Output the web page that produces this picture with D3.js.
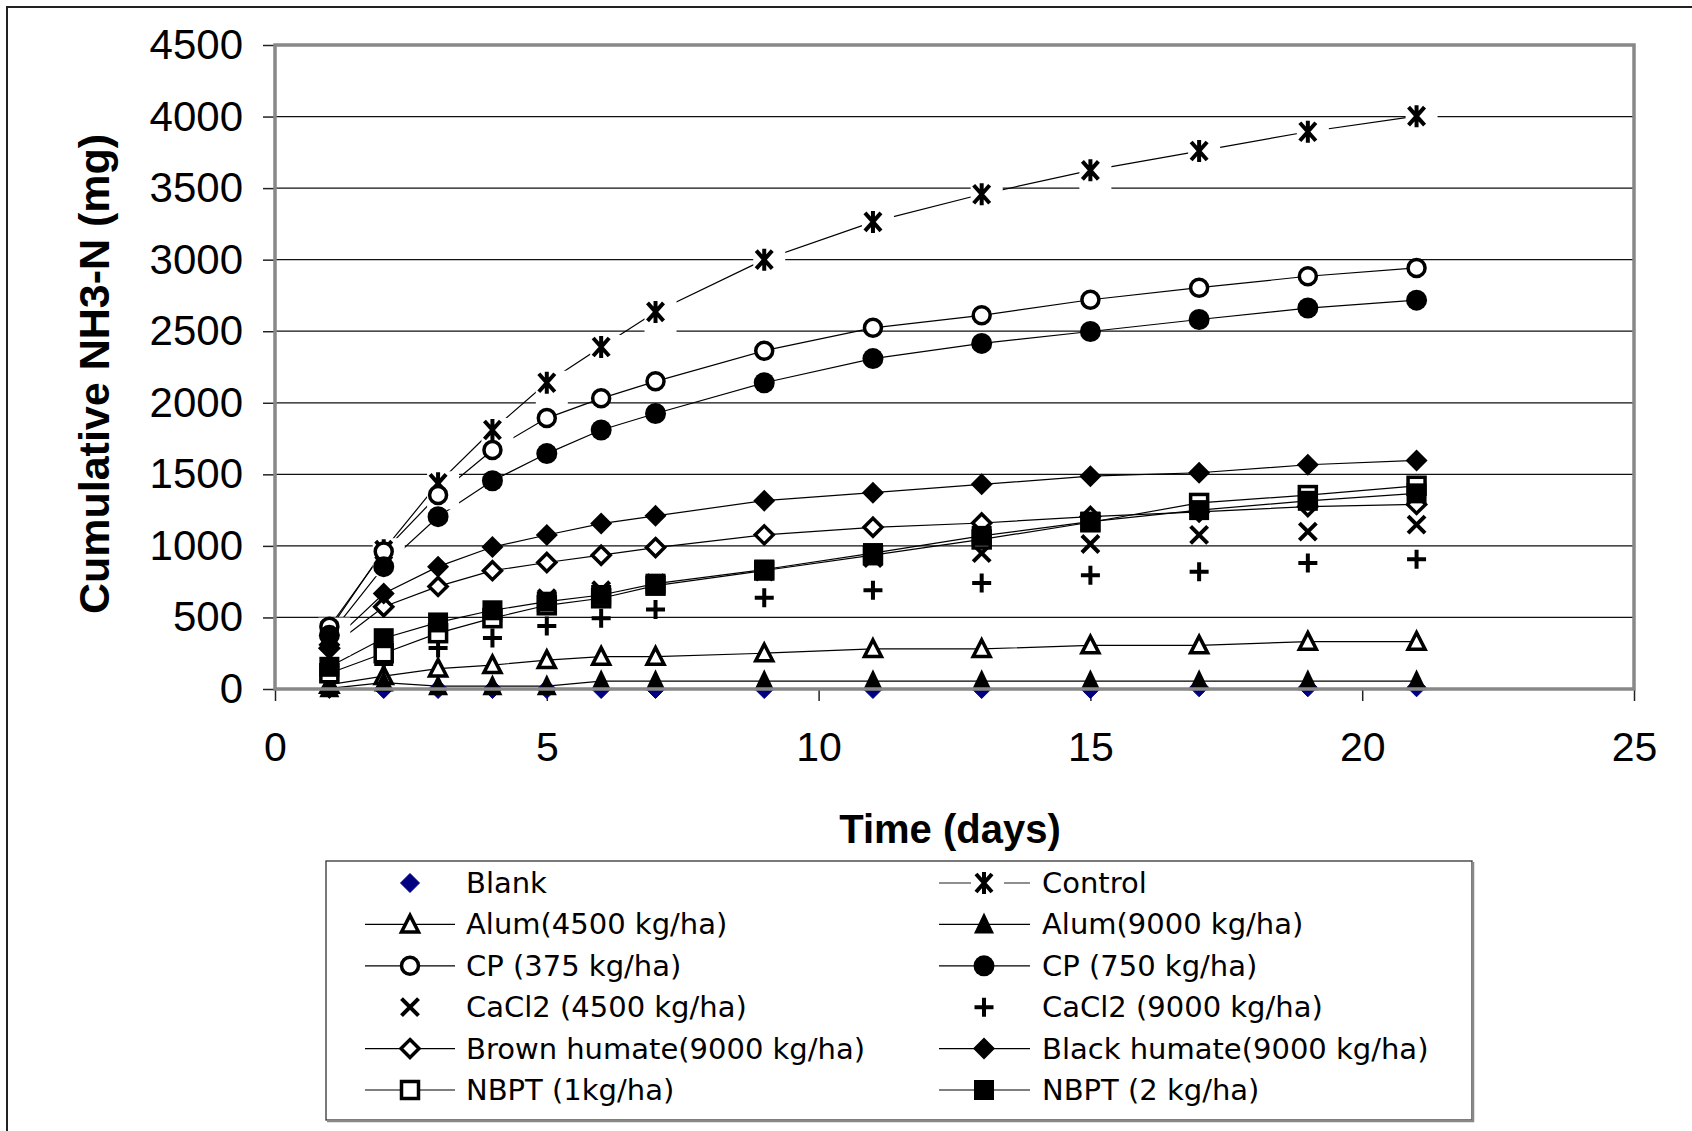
<!DOCTYPE html>
<html><head><meta charset="utf-8">
<script src="https://cdn.jsdelivr.net/npm/d3@7"></script>
<style>body{margin:0;background:#fff}svg{display:block}</style>
</head><body>
<svg id="chart" width="1692" height="1131"></svg>
<script>
// ---------------- data ----------------
const days = [1, 2, 3, 4, 5, 6, 7, 9, 11, 13, 15, 17, 19, 21];
const blank    = [0, 0, 0, 0, 0, 0, 0, 0, 0, 0, 0, 12, 12, 12];
const control  = [415, 970, 1437, 1810, 2140, 2390, 2635, 3000, 3264, 3457, 3624, 3759, 3894, 4003];
const alum4500 = [30, 90, 143, 167, 202, 226, 226, 250, 280, 280, 305, 305, 331, 331];
const alum9000 = [5, 45, 20, 20, 20, 55, 55, 55, 55, 55, 55, 55, 55, 55];
const cp375    = [435, 960, 1356, 1670, 1893, 2031, 2150, 2364, 2524, 2611, 2720, 2804, 2884, 2942];
const cp750    = [375, 855, 1204, 1455, 1645, 1810, 1925, 2140, 2309, 2415, 2498, 2582, 2662, 2717];
const cacl4500 = [110, 280, 400, 520, 635, 690, 740, 820, 915, 950, 1013, 1077, 1100, 1148];
const cacl9000 = [60, 175, 287, 356, 440, 495, 555, 638, 690, 740, 794, 820, 880, 907];
const brownHum = [285, 575, 717, 827, 884, 935, 988, 1077, 1130, 1160, 1205, 1238, 1275, 1290];
const blackHum = [310, 667, 855, 992, 1076, 1156, 1210, 1316, 1372, 1430, 1487, 1511, 1567, 1597];
const nbpt1    = [110, 250, 390, 495, 585, 634, 722, 828, 935, 1045, 1165, 1300, 1355, 1420];
const nbpt2    = [155, 355, 465, 550, 610, 657, 736, 835, 950, 1070, 1170, 1250, 1315, 1367];

const seriesNames = ["Blank", "Control", "Alum(4500 kg/ha)", "Alum(9000 kg/ha)",
  "CP (375 kg/ha)", "CP (750 kg/ha)", "CaCl2 (4500 kg/ha)", "CaCl2 (9000 kg/ha)",
  "Brown humate(9000 kg/ha)", "Black humate(9000 kg/ha)", "NBPT (1kg/ha)", "NBPT (2 kg/ha)"];
const xTicks = [0, 5, 10, 15, 20, 25];
const yTicks = [0, 500, 1000, 1500, 2000, 2500, 3000, 3500, 4000, 4500];
const xTitle = "Time (days)";
const yTitle = "Cumulative NH3-N (mg)";

const seriesValues = [blank, control, alum4500, alum9000, cp375, cp750, cacl4500, cacl9000, brownHum, blackHum, nbpt1, nbpt2];
const markerTypes = ["blank", "star", "triOpen", "triFill", "circOpen", "circFill", "x", "plus", "diaOpen", "diaFill", "sqOpen", "sqFill"];
const hasLine = [false, true, true, true, true, true, false, false, true, true, true, true];

// ---------------- layout ----------------
const svg = d3.select("#chart");
const P = {left: 275, right: 1634, top: 45, bottom: 689};
const x = d3.scaleLinear().domain([0, 25]).range([P.left, P.right]);
const y = d3.scaleLinear().domain([0, 4500]).range([P.bottom, P.top]);
const TICKFONT = "'Liberation Sans', Arial, sans-serif";

// outer chart frame
svg.append("rect").attr("x", 7).attr("y", 7).attr("width", 1800).attr("height", 1300)
  .attr("fill", "none").attr("stroke", "#222").attr("stroke-width", 2);

// gridlines
svg.append("g").selectAll("line").data(yTicks.filter(v => v > 0 && v < 4500)).join("line")
  .attr("x1", P.left).attr("x2", P.right)
  .attr("y1", d => y(d)).attr("y2", d => y(d))
  .attr("stroke", "#111").attr("stroke-width", 1.2);

// axes (ticks + labels)
const yAxis = svg.append("g").attr("transform", `translate(${P.left},0)`)
  .call(d3.axisLeft(y).tickValues(yTicks).tickSize(12).tickPadding(20).tickFormat(d3.format("d")));
yAxis.select(".domain").remove();
yAxis.selectAll(".tick line").attr("stroke", "#222").attr("stroke-width", 1.5);
yAxis.selectAll("text").attr("font-family", TICKFONT).attr("font-size", 42).attr("fill", "#000");

const xAxis = svg.append("g").attr("transform", `translate(0,${P.bottom})`)
  .call(d3.axisBottom(x).tickValues(xTicks).tickSize(12).tickPadding(31).tickFormat(d3.format("d")));
xAxis.select(".domain").remove();
xAxis.selectAll(".tick line").attr("stroke", "#222").attr("stroke-width", 1.5);
xAxis.selectAll("text").attr("font-family", TICKFONT).attr("font-size", 41).attr("fill", "#000");

// axis titles
svg.append("text").attr("x", 950).attr("y", 843).attr("text-anchor", "middle")
  .attr("font-family", TICKFONT).attr("font-weight", "bold").attr("font-size", 40).text(xTitle);
svg.append("text").attr("transform", "translate(109,374) rotate(-90)").attr("text-anchor", "middle")
  .attr("font-family", TICKFONT).attr("font-weight", "bold").attr("font-size", 43).text(yTitle);

// ---------------- markers ----------------
function drawMarker(g, type, cx, cy) {
  const dia = r => `M${cx},${cy - r}L${cx + r},${cy}L${cx},${cy + r}L${cx - r},${cy}Z`;
  switch (type) {
    case "blank":
      g.append("path").attr("d", dia(9.5)).attr("fill", "#000080").attr("stroke", "#000080").attr("stroke-width", 1); break;
    case "star":
      g.append("path").attr("d", `M${cx - 8},${cy - 9}L${cx + 8},${cy + 9}M${cx + 8},${cy - 9}L${cx - 8},${cy + 9}M${cx},${cy - 11}L${cx},${cy + 11}`)
        .attr("stroke", "#000").attr("stroke-width", 4).attr("fill", "none"); break;
    case "triOpen":
      g.append("path").attr("d", `M${cx},${cy - 9}L${cx + 8.5},${cy + 7.5}L${cx - 8.5},${cy + 7.5}Z`)
        .attr("fill", "#fff").attr("stroke", "#000").attr("stroke-width", 3.5).attr("stroke-linejoin", "miter"); break;
    case "triFill":
      g.append("path").attr("d", `M${cx},${cy - 12}L${cx + 10},${cy + 9}L${cx - 10},${cy + 9}Z`).attr("fill", "#000"); break;
    case "circOpen":
      g.append("circle").attr("cx", cx).attr("cy", cy).attr("r", 8.5).attr("fill", "#fff").attr("stroke", "#000").attr("stroke-width", 3.5); break;
    case "circFill":
      g.append("circle").attr("cx", cx).attr("cy", cy).attr("r", 10.5).attr("fill", "#000"); break;
    case "x":
      g.append("path").attr("d", `M${cx - 8.5},${cy - 8.5}L${cx + 8.5},${cy + 8.5}M${cx + 8.5},${cy - 8.5}L${cx - 8.5},${cy + 8.5}`)
        .attr("stroke", "#000").attr("stroke-width", 4); break;
    case "plus":
      g.append("path").attr("d", `M${cx - 9.5},${cy}L${cx + 9.5},${cy}M${cx},${cy - 9.5}L${cx},${cy + 9.5}`)
        .attr("stroke", "#000").attr("stroke-width", 4); break;
    case "diaOpen":
      g.append("path").attr("d", dia(9)).attr("fill", "#fff").attr("stroke", "#000").attr("stroke-width", 3.5); break;
    case "diaFill":
      g.append("path").attr("d", dia(11)).attr("fill", "#000"); break;
    case "sqOpen":
      g.append("rect").attr("x", cx - 8.5).attr("y", cy - 8.5).attr("width", 17).attr("height", 17)
        .attr("fill", "#fff").attr("stroke", "#000").attr("stroke-width", 3.5); break;
    case "sqFill":
      g.append("rect").attr("x", cx - 10).attr("y", cy - 10).attr("width", 20).attr("height", 20).attr("fill", "#000"); break;
  }
}

const series = seriesNames.map((name, i) => ({
  name, marker: markerTypes[i], line: hasLine[i],
  pts: days.map((d, j) => ({d, v: seriesValues[i][j]}))
}));

// lines
const lineGen = d3.line().x(p => x(p.d)).y(p => y(p.v));
const gLines = svg.append("g");
series.filter(s => s.line).forEach(s => {
  gLines.append("path").attr("d", lineGen(s.pts)).attr("fill", "none").attr("stroke", "#000").attr("stroke-width", 1.2);
});

// white label boxes around Control markers (knock out gridlines & lines)
const gBoxes = svg.append("g");
series[1].pts.forEach(p => {
  gBoxes.append("rect").attr("x", x(p.d) - 11).attr("y", y(p.v) - 12).attr("width", 32).attr("height", 38).attr("fill", "#fff");
});

// markers
const gMarks = svg.append("g");
series.forEach(s => {
  s.pts.forEach(p => drawMarker(gMarks, s.marker, x(p.d), y(p.v)));
});

// plot area frame / axis lines (gray)
svg.append("rect").attr("x", P.left).attr("y", P.top).attr("width", P.right - P.left).attr("height", P.bottom - P.top)
  .attr("fill", "none").attr("stroke", "#888").attr("stroke-width", 3.5);

// ---------------- legend ----------------
const L = {x: 326, y: 861, w: 1146, h: 259};
const gLeg = svg.append("g");
gLeg.append("rect").attr("x", L.x).attr("y", L.y).attr("width", L.w).attr("height", L.h)
  .attr("fill", "#fff").attr("stroke", "#333").attr("stroke-width", 1.3);
gLeg.append("path").attr("d", `M${L.x + 1},${L.y + L.h + 1}H${L.x + L.w + 1}V${L.y + 1}`)
  .attr("fill", "none").attr("stroke", "#888").attr("stroke-width", 2.5);

const colMarker = [410, 984], colLine = [[365, 455], [939, 1030]], colText = [466, 1042];
series.forEach((s, i) => {
  const c = i % 2, r = Math.floor(i / 2);
  const cy = 883 + r * 41.4;
  const mx = colMarker[c];
  if (s.line) {
    if (s.marker === "star") {
      gLeg.append("line").attr("x1", colLine[c][0]).attr("x2", mx - 13).attr("y1", cy).attr("y2", cy).attr("stroke", "#444").attr("stroke-width", 1.2);
      gLeg.append("line").attr("x1", mx + 20).attr("x2", colLine[c][1]).attr("y1", cy).attr("y2", cy).attr("stroke", "#444").attr("stroke-width", 1.2);
    } else {
      gLeg.append("line").attr("x1", colLine[c][0]).attr("x2", colLine[c][1]).attr("y1", cy).attr("y2", cy).attr("stroke", "#000").attr("stroke-width", 1.2);
    }
  }
  drawMarker(gLeg, s.marker, mx, cy);
  gLeg.append("text").attr("x", colText[c]).attr("y", cy + 10)
    .attr("font-family", "'DejaVu Sans', sans-serif").attr("font-size", 29).attr("fill", "#000").text(s.name);
});
</script>
</body></html>
